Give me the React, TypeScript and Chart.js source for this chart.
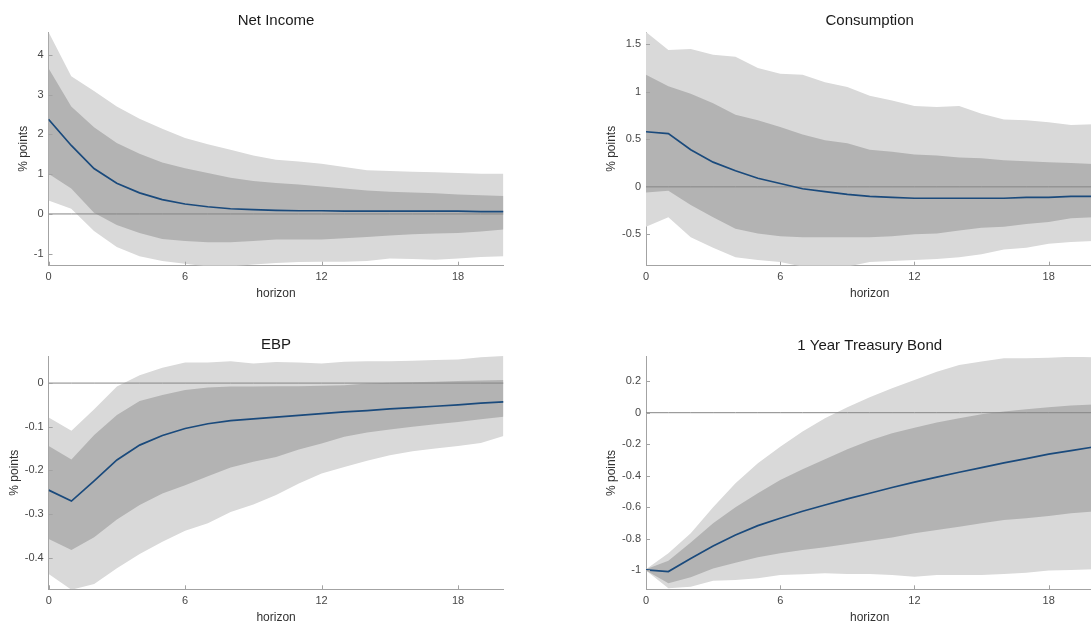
import React, { useEffect, useRef } from "react";
import { Chart, registerables } from "chart.js";

Chart.register(...registerables);

// ---------- data ----------
const horizons = [0, 1, 2, 3, 4, 5, 6, 7, 8, 9, 10, 11, 12, 13, 14, 15, 16, 17, 18, 19, 20];
const zeros = [0, 0, 0, 0, 0, 0, 0, 0, 0, 0, 0, 0, 0, 0, 0, 0, 0, 0, 0, 0, 0];
const xTickValues = [0, 6, 12, 18];

const netIncomeMedian = [2.38, 1.72, 1.14, 0.77, 0.53, 0.36, 0.25, 0.18, 0.13, 0.11, 0.09, 0.08, 0.08, 0.07, 0.07, 0.07, 0.07, 0.07, 0.07, 0.06, 0.06];
const netIncomeOuterHi = [4.57, 3.46, 3.09, 2.7, 2.39, 2.14, 1.91, 1.75, 1.61, 1.47, 1.36, 1.32, 1.26, 1.18, 1.1, 1.08, 1.06, 1.05, 1.03, 1.01, 1.01];
const netIncomeInnerHi = [3.66, 2.7, 2.18, 1.78, 1.51, 1.29, 1.15, 1.03, 0.91, 0.83, 0.78, 0.74, 0.69, 0.64, 0.59, 0.56, 0.54, 0.52, 0.49, 0.47, 0.45];
const netIncomeInnerLo = [1.01, 0.64, 0.03, -0.28, -0.48, -0.63, -0.68, -0.71, -0.71, -0.68, -0.64, -0.64, -0.64, -0.61, -0.58, -0.54, -0.51, -0.49, -0.48, -0.44, -0.39];
const netIncomeOuterLo = [0.34, 0.13, -0.43, -0.83, -1.06, -1.18, -1.25, -1.32, -1.32, -1.27, -1.23, -1.21, -1.2, -1.2, -1.18, -1.12, -1.13, -1.15, -1.12, -1.08, -1.06];
const netIncomeYTicks = [-1, 0, 1, 2, 3, 4];

const consumptionMedian = [0.58, 0.56, 0.39, 0.26, 0.17, 0.09, 0.035, -0.02, -0.05, -0.08, -0.1, -0.11, -0.12, -0.12, -0.12, -0.12, -0.12, -0.11, -0.11, -0.1, -0.1];
const consumptionOuterHi = [1.63, 1.44, 1.45, 1.39, 1.37, 1.25, 1.19, 1.18, 1.1, 1.05, 0.96, 0.91, 0.85, 0.84, 0.85, 0.77, 0.71, 0.7, 0.68, 0.65, 0.66];
const consumptionInnerHi = [1.18, 1.06, 0.98, 0.88, 0.76, 0.7, 0.63, 0.55, 0.49, 0.46, 0.39, 0.37, 0.34, 0.33, 0.31, 0.3, 0.28, 0.27, 0.26, 0.25, 0.24];
const consumptionInnerLo = [-0.06, -0.04, -0.19, -0.32, -0.44, -0.49, -0.52, -0.53, -0.53, -0.53, -0.53, -0.52, -0.5, -0.49, -0.46, -0.43, -0.42, -0.39, -0.37, -0.33, -0.32];
const consumptionOuterLo = [-0.42, -0.32, -0.53, -0.64, -0.74, -0.77, -0.79, -0.84, -0.84, -0.84, -0.79, -0.78, -0.77, -0.76, -0.74, -0.71, -0.66, -0.64, -0.6, -0.58, -0.57];
const consumptionYTicks = [-0.5, 0, 0.5, 1, 1.5];

const ebpMedian = [-0.245, -0.27, -0.224, -0.176, -0.142, -0.12, -0.104, -0.093, -0.086, -0.082, -0.078, -0.074, -0.07, -0.066, -0.063, -0.059, -0.056, -0.053, -0.05, -0.046, -0.043];
const ebpOuterHi = [-0.079, -0.109, -0.06, -0.008, 0.018, 0.035, 0.047, 0.047, 0.05, 0.045, 0.048, 0.047, 0.045, 0.049, 0.05, 0.05, 0.051, 0.053, 0.054, 0.059, 0.062];
const ebpInnerHi = [-0.144, -0.175, -0.119, -0.073, -0.041, -0.027, -0.016, -0.01, -0.008, -0.008, -0.007, -0.007, -0.006, -0.005, -0.001, 0.001, 0.002, 0.003, 0.005, 0.006, 0.007];
const ebpInnerLo = [-0.357, -0.382, -0.353, -0.312, -0.279, -0.253, -0.234, -0.213, -0.193, -0.18, -0.169, -0.152, -0.138, -0.123, -0.113, -0.106, -0.1, -0.094, -0.089, -0.083, -0.077];
const ebpOuterLo = [-0.437, -0.473, -0.46, -0.424, -0.391, -0.363, -0.338, -0.321, -0.295, -0.278, -0.256, -0.23, -0.207, -0.192, -0.178, -0.165, -0.156, -0.15, -0.144, -0.137, -0.121];
const ebpYTicks = [-0.4, -0.3, -0.2, -0.1, 0];

const treasuryMedian = [-1.0, -1.01, -0.927, -0.848, -0.778, -0.718, -0.671, -0.627, -0.587, -0.548, -0.512, -0.476, -0.442, -0.41, -0.379, -0.349, -0.319, -0.292, -0.264, -0.241, -0.218];
const treasuryOuterHi = [-0.996, -0.894, -0.767, -0.602, -0.449, -0.322, -0.216, -0.12, -0.035, 0.035, 0.098, 0.155, 0.208, 0.261, 0.304, 0.325, 0.346, 0.346, 0.35, 0.356, 0.352];
const treasuryInnerHi = [-0.996, -0.941, -0.826, -0.703, -0.602, -0.512, -0.428, -0.36, -0.296, -0.232, -0.177, -0.131, -0.095, -0.063, -0.035, -0.01, 0.007, 0.022, 0.035, 0.045, 0.052];
const treasuryInnerLo = [-1.004, -1.085, -1.047, -0.99, -0.954, -0.92, -0.894, -0.873, -0.856, -0.835, -0.814, -0.793, -0.767, -0.746, -0.725, -0.703, -0.682, -0.672, -0.657, -0.64, -0.629];
const treasuryOuterLo = [-1.004, -1.117, -1.106, -1.068, -1.064, -1.053, -1.032, -1.028, -1.021, -1.026, -1.026, -1.032, -1.043, -1.032, -1.032, -1.032, -1.026, -1.017, -1.004, -1.0, -0.996];
const treasuryYTicks = [-1, -0.8, -0.6, -0.4, -0.2, 0, 0.2];

// ---------- styles ----------
const FONT = '"Liberation Sans", Arial, Helvetica, sans-serif';
const OUTER = "#d9d9d9";
const INNER = "#b3b3b3";
const LINE = "#1a4a7c";
const ZERO = "#858585";
const AXIS = "#a3a3a3";
const TICKTXT = "#474747";
const LABELTXT = "#333333";

type PanelCfg = {
  title: string;
  median: number[];
  outerHi: number[];
  innerHi: number[];
  innerLo: number[];
  outerLo: number[];
  yTicks: number[];
  yMin: number;
  yMax: number;
  x: number;
  y: number;
  w: number;
  h: number;
  pad: { left: number; top: number; right: number; bottom: number };
  yW: number;
  xH: number;
};

const panels: PanelCfg[] = [
  {
    title: "Net Income",
    median: netIncomeMedian, outerHi: netIncomeOuterHi, innerHi: netIncomeInnerHi, innerLo: netIncomeInnerLo, outerLo: netIncomeOuterLo,
    yTicks: netIncomeYTicks, yMin: -1.3, yMax: 4.57,
    x: 0, y: 0, w: 545, h: 310,
    pad: { left: 16.3, top: 32, right: 41.5, bottom: 8.8 }, yW: 32.2, xH: 35.5,
  },
  {
    title: "Consumption",
    median: consumptionMedian, outerHi: consumptionOuterHi, innerHi: consumptionInnerHi, innerLo: consumptionInnerLo, outerLo: consumptionOuterLo,
    yTicks: consumptionYTicks, yMin: -0.83, yMax: 1.63,
    x: 560, y: 0, w: 600, h: 310,
    pad: { left: 44.8, top: 32, right: 66.6, bottom: 8.8 }, yW: 41.2, xH: 35.5,
  },
  {
    title: "EBP",
    median: ebpMedian, outerHi: ebpOuterHi, innerHi: ebpInnerHi, innerLo: ebpInnerLo, outerLo: ebpOuterLo,
    yTicks: ebpYTicks, yMin: -0.472, yMax: 0.062,
    x: 0, y: 312, w: 545, h: 320,
    pad: { left: 7.1, top: 44, right: 41.5, bottom: 7.3 }, yW: 41.6, xH: 35.4,
  },
  {
    title: "1 Year Treasury Bond",
    median: treasuryMedian, outerHi: treasuryOuterHi, innerHi: treasuryInnerHi, innerLo: treasuryInnerLo, outerLo: treasuryOuterLo,
    yTicks: treasuryYTicks, yMin: -1.123, yMax: 0.356,
    x: 560, y: 312, w: 600, h: 320,
    pad: { left: 44.8, top: 44.7, right: 66.6, bottom: 7.3 }, yW: 41.2, xH: 35.4,
  },
];

const pts = (arr: number[]) => arr.map((v, i) => ({ x: horizons[i], y: v }));

const decorPlugin = {
  id: "decor",
  afterDraw(chart: any, _args: any, opts: any) {
    const { ctx, chartArea: a, scales } = chart;
    ctx.save();
    // title
    ctx.font = `15px ${FONT}`;
    ctx.fillStyle = "#1a1a1a";
    ctx.textAlign = "center";
    ctx.textBaseline = "middle";
    ctx.fillText(opts.text, (a.left + a.right) / 2, a.top - 11.3);
    // inward tick marks
    ctx.strokeStyle = AXIS;
    ctx.lineWidth = 1;
    ctx.beginPath();
    scales.x.ticks.forEach((t: any) => {
      const px = Math.round(scales.x.getPixelForValue(t.value)) + 0.5;
      ctx.moveTo(px, a.bottom);
      ctx.lineTo(px, a.bottom - 4);
    });
    scales.y.ticks.forEach((t: any) => {
      const py = Math.round(scales.y.getPixelForValue(t.value)) + 0.5;
      ctx.moveTo(a.left, py);
      ctx.lineTo(a.left + 4, py);
    });
    ctx.stroke();
    ctx.restore();
  },
};

function buildConfig(p: PanelCfg): any {
  const band = (data: number[], fill: any, color: string, order: number) => ({
    data: pts(data),
    borderWidth: 0,
    borderColor: "transparent",
    backgroundColor: color,
    pointRadius: 0,
    tension: 0,
    fill,
    order,
  });
  return {
    type: "line",
    data: {
      datasets: [
        band(p.outerLo, false, OUTER, 3),
        band(p.outerHi, "-1", OUTER, 3),
        band(p.innerLo, false, INNER, 2),
        band(p.innerHi, "-1", INNER, 2),
        { data: pts(zeros), borderColor: ZERO, borderWidth: 1, pointRadius: 0, fill: false, order: 1 },
        { data: pts(p.median), borderColor: LINE, borderWidth: 1.7, pointRadius: 0, fill: false, tension: 0, order: 0 },
      ],
    },
    options: {
      animation: false,
      responsive: false,
      maintainAspectRatio: false,
      devicePixelRatio: 1,
      events: [],
      layout: { padding: p.pad },
      plugins: {
        legend: { display: false },
        tooltip: { enabled: false },
        title: { display: false },
        decor: { text: p.title },
      },
      scales: {
        x: {
          type: "linear",
          min: 0,
          max: 20,
          bounds: "data",
          z: 1,
          afterBuildTicks: (s: any) => {
            s.ticks = xTickValues.map((v) => ({ value: v }));
          },
          afterFit: (s: any) => {
            s.height = p.xH;
          },
          grid: { display: true, drawOnChartArea: false, drawTicks: false },
          border: { display: true, color: AXIS, width: 1 },
          ticks: {
            padding: 5,
            color: TICKTXT,
            font: { family: FONT, size: 11 },
            maxRotation: 0,
            autoSkip: false,
            callback: (v: any) => String(v),
          },
          title: { display: true, text: "horizon", color: LABELTXT, font: { family: FONT, size: 12 }, padding: 0 },
        },
        y: {
          type: "linear",
          min: p.yMin,
          max: p.yMax,
          bounds: "data",
          z: 1,
          afterBuildTicks: (s: any) => {
            s.ticks = p.yTicks.map((v) => ({ value: v }));
          },
          afterFit: (s: any) => {
            s.width = p.yW;
          },
          grid: { display: true, drawOnChartArea: false, drawTicks: false },
          border: { display: true, color: AXIS, width: 1 },
          ticks: {
            padding: 5,
            color: TICKTXT,
            font: { family: FONT, size: 11 },
            autoSkip: false,
            callback: (v: any) => String(v),
          },
          title: { display: true, text: "% points", color: LABELTXT, font: { family: FONT, size: 12 }, padding: 0 },
        },
      },
    },
    plugins: [decorPlugin],
  };
}

function Panel({ cfg }: { cfg: PanelCfg }) {
  const ref = useRef<HTMLCanvasElement>(null);
  useEffect(() => {
    const chart = new Chart(ref.current as HTMLCanvasElement, buildConfig(cfg));
    return () => chart.destroy();
  }, [cfg]);
  return (
    <canvas
      ref={ref}
      width={cfg.w}
      height={cfg.h}
      style={{ position: "absolute", left: cfg.x, top: cfg.y, width: cfg.w, height: cfg.h }}
    />
  );
}

export default function App() {
  return (
    <div
      style={{
        position: "fixed",
        left: 0,
        top: 0,
        width: 1091,
        height: 624,
        overflow: "hidden",
        background: "#ffffff",
      }}
    >
      {panels.map((p) => (
        <Panel key={p.title} cfg={p} />
      ))}
    </div>
  );
}
